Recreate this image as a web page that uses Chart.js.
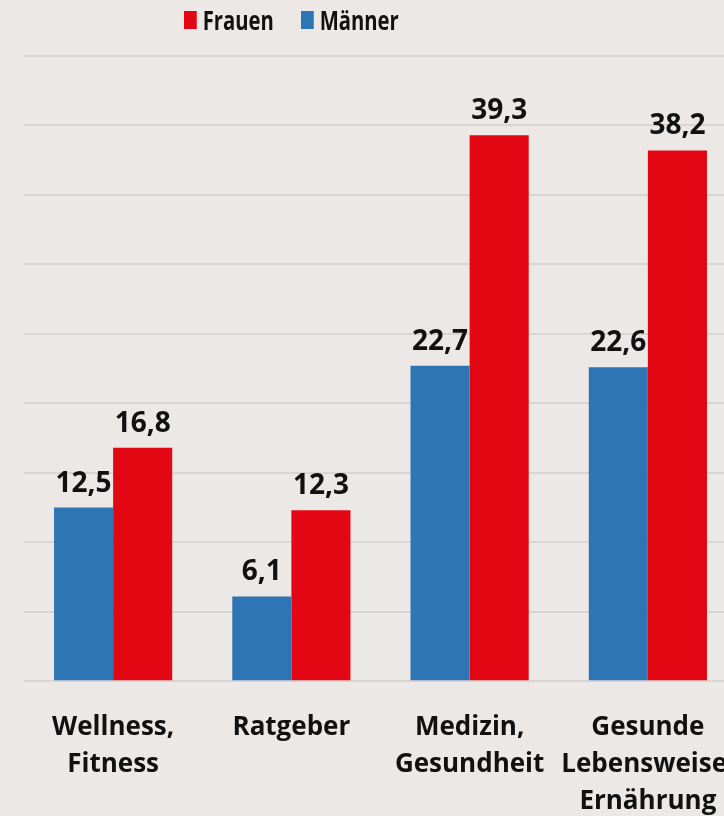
<!DOCTYPE html>
<html>
<head>
<meta charset="utf-8">
<script src="https://cdn.jsdelivr.net/npm/chart.js@4.4.0/dist/chart.umd.min.js"></script>
<style>
    html, body { margin: 0; padding: 0; background: #ebe8e5; overflow: hidden; width: 724px; height: 816px; }
    #wrap { position: absolute; left: 0; top: 0; width: 760px; height: 840px; }
    #legend { position: absolute; top: 1px; left: 184px; display: flex; align-items: center;
              transform: scaleX(0.75); transform-origin: left center;
              font-family: "Open Sans", sans-serif; font-weight: bold; font-size: 27px; color: #111; }
    #legend span.box { display: inline-block; width: 17px; height: 18px; margin-right: 8px; }
    #legend span.item { display: flex; align-items: center; margin-right: 36px; }
</style>
</head>
<body>
<div id="wrap"><canvas id="barChart"></canvas></div>
<div id="legend"></div>
<script>
// ==================== DATA ====================
const categories = [['Wellness,', 'Fitness'], ['Ratgeber'], ['Medizin,', 'Gesundheit'], ['Gesunde', 'Lebensweise,', 'Ernährung']];
const maenner = [12.5, 6.1, 22.7, 22.6];
const frauen = [16.8, 12.3, 39.3, 38.2];
const legendOrder = ['Frauen', 'Männer'];

const BLUE = '#2e75b6';
const RED = '#e30613';
const FONT = '"Open Sans", sans-serif';

// ==================== LEGEND ====================
const legendColors = { 'Frauen': RED, 'Männer': BLUE };
const legendEl = document.getElementById('legend');
legendOrder.forEach(name => {
    const item = document.createElement('span');
    item.className = 'item';
    item.innerHTML = '<span class="box" style="background:' + legendColors[name] + '"></span>' + name;
    legendEl.appendChild(item);
});

// ==================== VALUE LABELS ====================
const valueLabels = {
    id: 'valueLabels',
    afterDatasetsDraw(chart) {
        const ctx = chart.ctx;
        ctx.save();
        ctx.font = 'bold 28px ' + FONT;
        ctx.fillStyle = '#111';
        ctx.textAlign = 'center';
        ctx.textBaseline = 'bottom';
        chart.data.datasets.forEach((ds, i) => {
            chart.getDatasetMeta(i).data.forEach((bar, j) => {
                const txt = ds.data[j].toFixed(1).replace('.', ',');
                ctx.fillText(txt, bar.x, bar.y - 10);
            });
        });
        ctx.restore();
    }
};

// ==================== CHART ====================
const ctx = document.getElementById('barChart').getContext('2d');
new Chart(ctx, {
    type: 'bar',
    data: {
        labels: categories,
        datasets: [
            {
                label: 'Männer',
                data: maenner,
                backgroundColor: BLUE,
                categoryPercentage: 0.663,
                barPercentage: 1
            },
            {
                label: 'Frauen',
                data: frauen,
                backgroundColor: RED,
                categoryPercentage: 0.663,
                barPercentage: 1
            }
        ]
    },
    options: {
        responsive: true,
        maintainAspectRatio: false,
        animation: false,
        layout: { padding: { left: 24, right: 23, top: 56, bottom: 0 } },
        plugins: {
            legend: { display: false },
            tooltip: { enabled: false }
        },
        scales: {
            y: {
                min: 0,
                max: 45,
                ticks: { stepSize: 5, display: false },
                border: { display: false },
                grid: { color: '#d8d5d2', lineWidth: 2, drawTicks: false }
            },
            x: {
                border: { display: false },
                grid: { display: false },
                ticks: {
                    color: '#111',
                    padding: 20,
                    maxRotation: 0,
                    autoSkip: false,
                    font: { family: FONT, size: 26, weight: 'bold', lineHeight: 1.42 }
                }
            }
        }
    },
    plugins: [valueLabels]
});
</script>
</body>
</html>
